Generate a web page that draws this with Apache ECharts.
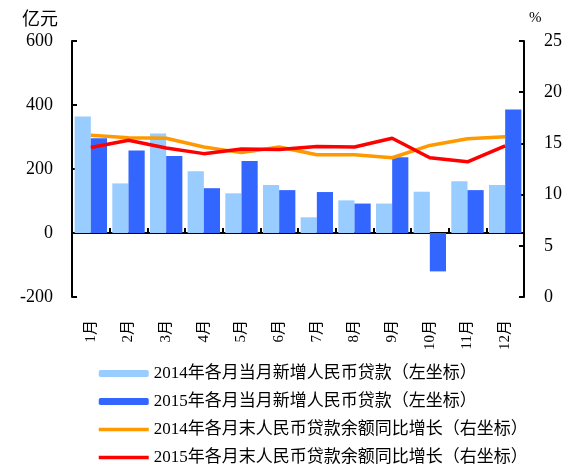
<!DOCTYPE html>
<html>
<head>
<meta charset="utf-8">
<script src="https://cdn.jsdelivr.net/npm/echarts@6/dist/echarts.min.js"></script>
<style>html,body{margin:0;padding:0;background:#fff}#c{width:570px;height:466px}</style>
</head>
<body>
<div id="c"></div>
<script>
var months = ['1月','2月','3月','4月','5月','6月','7月','8月','9月','10月','11月','12月'];
var loans2014 = [364,155,311,193,124,150,49,102,92,129,162,150];
var loans2015 = [296,258,241,140,225,134,128,92,237,-120,134,386];
var growth2014 = [15.8,15.55,15.5,14.65,14.1,14.65,13.9,13.9,13.6,14.8,15.45,15.65];
var growth2015 = [14.6,15.3,14.55,14.0,14.45,14.4,14.7,14.65,15.5,13.6,13.2,14.75];
var leftTicks = {min:-200, max:600, interval:200};
var rightTicks = {min:0, max:25, interval:5};
var names = ['2014年各月当月新增人民币贷款（左坐标）','2015年各月当月新增人民币贷款（左坐标）','2014年各月末人民币贷款余额同比增长（右坐标）','2015年各月末人民币贷款余额同比增长（右坐标）'];

var FONT = '"Liberation Serif","Noto Sans CJK SC",serif';
var chart = echarts.init(document.getElementById('c'));
chart.setOption({
  animation:false,
  backgroundColor:'#fff',
  grid:{left:72,right:46,top:41,bottom:169},
  legend:{
    orient:'vertical', left:92, top:360, height:140, itemWidth:50, itemHeight:7, itemGap:11,
    textStyle:{fontFamily:FONT, fontSize:17, color:'#000'},
    data:[
      {name:names[0]},
      {name:names[1]},
      {name:names[2], itemStyle:{opacity:0}, lineStyle:{width:3.5}},
      {name:names[3], itemStyle:{opacity:0}, lineStyle:{width:3.5}}
    ]
  },
  xAxis:[{
    type:'category', data:months, position:'bottom',
    axisLine:{show:false, onZero:false}, axisTick:{show:false},
    axisLabel:{rotate:90, interval:0, margin:23, fontFamily:FONT, fontSize:15, color:'#000'}
  },{
    type:'category', data:months, position:'bottom',
    axisLine:{show:true, onZero:true, onZeroAxisIndex:0, lineStyle:{color:'#000', width:2}},
    axisTick:{show:true, inside:true, length:5, interval:0, lineStyle:{color:'#000', width:2}},
    axisLabel:{show:false}
  }],
  yAxis:[{
    type:'value', min:leftTicks.min, max:leftTicks.max, interval:leftTicks.interval,
    name:'亿元', nameLocation:'end', nameGap:12,
    nameTextStyle:{fontFamily:FONT, fontSize:18, color:'#000', align:'right', padding:[0,14,0,0]},
    axisLine:{show:true, lineStyle:{color:'#000', width:2}},
    axisTick:{show:true, inside:true, length:5, lineStyle:{color:'#000', width:2}},
    splitLine:{show:false},
    axisLabel:{margin:19, fontFamily:FONT, fontSize:18, color:'#000'}
  },{
    type:'value', min:rightTicks.min, max:rightTicks.max, interval:rightTicks.interval, position:'right',
    name:'%', nameLocation:'end', nameGap:15,
    nameTextStyle:{fontFamily:FONT, fontSize:15, color:'#000', align:'left', padding:[0,0,0,5]},
    axisLine:{show:true, lineStyle:{color:'#000', width:2}},
    axisTick:{show:true, inside:true, length:5, lineStyle:{color:'#000', width:2}},
    splitLine:{show:false},
    axisLabel:{margin:20, fontFamily:FONT, fontSize:18, color:'#000'}
  }],
  series:[
    {name:names[0], type:'bar', data:loans2014, xAxisIndex:0, yAxisIndex:0, barGap:0, barCategoryGap:'14%', itemStyle:{color:'#99CCFF'}},
    {name:names[1], type:'bar', data:loans2015, xAxisIndex:0, yAxisIndex:0, barGap:0, barCategoryGap:'14%', itemStyle:{color:'#3366FF'}},
    {name:names[2], type:'line', data:growth2014, xAxisIndex:0, yAxisIndex:1, symbol:'none', lineStyle:{color:'#FF9900', width:3.5}, itemStyle:{color:'#FF9900'}},
    {name:names[3], type:'line', data:growth2015, xAxisIndex:0, yAxisIndex:1, symbol:'none', lineStyle:{color:'#FF0000', width:3.5}, itemStyle:{color:'#FF0000'}}
  ]
});
</script>
</body>
</html>
